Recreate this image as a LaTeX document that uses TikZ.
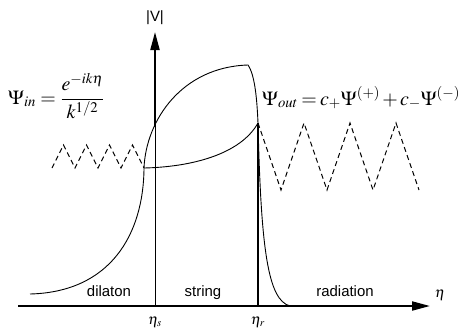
\documentclass[tikz,border=0pt]{standalone}
\usepackage{amsmath}
\usepackage{mathptmx}
\usepackage{fontspec}
\setsansfont{Liberation Sans}
\usetikzlibrary{arrows.meta}

\begin{document}
\begin{tikzpicture}[
    x=1bp, y=-1bp,
    every node/.style={font=\sffamily\fontsize{15}{18}\selectfont},
    axis/.style={line width=2bp, -{Triangle[length=18bp, width=9bp]}},
    curve/.style={line width=0.9bp},
    wave/.style={line width=1bp, dash pattern=on 5bp off 3.5bp},
    region/.style={anchor=base},
    eqn/.style={font=\fontsize{20}{24}\selectfont, anchor=base west, inner sep=0pt}
]

\fill[white] (0,0) rectangle (460,335);
\useasboundingbox (0,0) rectangle (460,335);

% axes and region borders
\coordinate (xstart) at (18,306);
\coordinate (xend) at (430,306);
\coordinate (O) at (155,306);
\coordinate (ycut) at (155,127);
\coordinate (yend) at (155,32);
\coordinate (r0) at (258,306);
\coordinate (rtop) at (258,123);

\draw [axis] (xstart) -- (xend);
\draw [curve] (O) -- (ycut);
\draw [axis] (ycut) -- (yend);
\draw [line width=1.8bp] (r0) -- (rtop);

% potential
\coordinate (vstart) at (30,294);
\coordinate (corner) at (144,168);
\coordinate (peak) at (248,65);
\coordinate (vend) at (290,306);

\draw [curve] (vstart) .. controls (110,292) and (143.5,235) .. (corner)
    .. controls (146,120) and (182,67) .. (peak)
    .. controls (255,75) and (257,100) .. (rtop)
    .. controls (261,250) and (268,300) .. (vend);
\draw [curve] (corner) .. controls (190,167) and (240,155) .. (rtop);

% incoming and outgoing waves
\coordinate (win) at (52,168);
\draw [wave] (win) \foreach \i in {1,...,4} { -- ++(11.5,-23) -- ++(11.5,23) };
\draw [wave] (rtop) \foreach \i in {1,2,3} { -- ++(23,67) -- ++(23,-67) } -- ++(23,67);

% labels
\node [region] (dil) at (109,296) {dilaton};
\node [region] (str) at (203,296) {string};
\node [region] (rad) at (345,296) {radiation};
\node (vlab) at (155,18) {|V|};
\node (eta) at (440,295) {$\eta$};
\node [inner sep=1pt] (etas) at (155,322) {$\eta_s$};
\node [inner sep=1pt] (etar) at (258,322) {$\eta_r$};
\node [eqn] (psiin) at (8,104) {$\Psi_{in} = \dfrac{e^{-ik\eta}}{k^{1/2}}$};
\node [eqn] (psiout) at (262,105) {\thickmuskip=3mu \medmuskip=2mu
    $\Psi_{out} = c_+\Psi^{(+)} + c_-\Psi^{(-)}$};

\end{tikzpicture}
\end{document}
